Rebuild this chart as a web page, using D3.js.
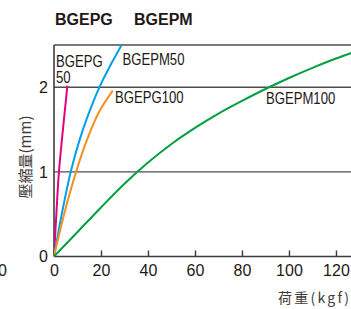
<!DOCTYPE html>
<html>
<head>
<meta charset="utf-8">
<script src="https://cdnjs.cloudflare.com/ajax/libs/d3/7.8.5/d3.min.js"></script>
<style>
  body { margin: 0; background: #fff; }
  svg { display: block; }
</style>
</head>
<body>
<div id="chartContainer"></div>
<script>
// load (kgf) vs compression (mm)
var pg50Load = [0, 1.0, 2.1, 3.8, 5.7];
var pg50Comp = [0, 0.5, 1.0, 1.5, 2.02];

var pm50Load = [0, 3.3, 7.1, 10.8, 14.5, 19.3, 24, 28.8];
var pm50Comp = [0, 0.5, 1.0, 1.37, 1.67, 2.0, 2.26, 2.5];

var pg100Load = [0, 4.3, 9.4, 13.9, 19, 25];
var pg100Comp = [0, 0.5, 1.0, 1.37, 1.7, 1.96];

var pm100Load = [0, 10, 20, 30, 40, 50, 60, 70, 80, 90, 100, 110, 120, 127];
var pm100Comp = [0, 0.29, 0.58, 0.86, 1.11, 1.33, 1.52, 1.69, 1.84, 1.98, 2.11, 2.23, 2.34, 2.41];

var xTicks = [0, 20, 40, 60, 80, 100, 120];
var yTicks = [0, 1, 2];

var sans = "'Liberation Sans', Arial, sans-serif";
var cjk = "'Noto Sans CJK JP', 'Noto Sans CJK SC', sans-serif";

var svg = d3.select("#chartContainer").append("svg")
    .attr("width", 351)
    .attr("height", 309);

var x = d3.scaleLinear().domain([0, 126.4]).range([54, 351]);
var y = d3.scaleLinear().domain([0, 2.5]).range([256.5, 45]);

svg.append("defs").append("clipPath").attr("id", "plot")
    .append("rect")
    .attr("x", 54).attr("y", 45)
    .attr("width", 297).attr("height", 211.5);

// title
svg.selectAll("text.title")
    .data([{t: "BGEPG", x: 55}, {t: "BGEPM", x: 134}])
    .enter()
    .append("text")
    .attr("class", "title")
    .attr("x", function (d) { return d.x; })
    .attr("y", 25)
    .style("font-family", sans)
    .style("font-size", "16px")
    .style("font-weight", "bold")
    .style("fill", "#231815")
    .text(function (d) { return d.t; });

// grid lines and top frame
svg.selectAll("line.grid")
    .data([1, 2, 2.5])
    .enter()
    .append("line")
    .attr("class", "grid")
    .attr("x1", 54).attr("x2", 351)
    .attr("y1", function (d) { return y(d); })
    .attr("y2", function (d) { return y(d); })
    .style("stroke", "#4d4d4d")
    .style("stroke-width", 1.4);

// axes
var yAxis = svg.append("g")
    .attr("transform", "translate(54,0)")
    .call(d3.axisLeft(y).tickValues(yTicks).tickSize(0).tickPadding(6).tickFormat(d3.format("d")));
var xAxis = svg.append("g")
    .attr("transform", "translate(0," + y(0) + ")")
    .call(d3.axisBottom(x).tickValues(xTicks).tickSize(-6).tickPadding(8).tickFormat(d3.format("d")));

[xAxis, yAxis].forEach(function (a) {
  a.select(".domain").style("stroke", "#3e3a39").style("stroke-width", 1.6);
  a.selectAll(".tick line").style("stroke", "#3e3a39").style("stroke-width", 1.4);
  a.selectAll("text")
      .style("font-family", sans)
      .style("font-size", "16px")
      .style("fill", "#231815");
});
yAxis.select(".domain").attr("d", "M0," + y(2.5) + "V" + y(0));
xAxis.select(".domain").attr("d", "M54,0H351");
xAxis.selectAll(".tick").filter(function (d) { return d === 0; }).select("line").remove();

// stray label at far left
svg.append("text")
    .attr("x", -2).attr("y", 276)
    .style("font-family", sans)
    .style("font-size", "16px")
    .style("fill", "#231815")
    .text("0");

// curves
var series = [
  {load: pg50Load, comp: pg50Comp, color: "#e4007f"},
  {load: pm50Load, comp: pm50Comp, color: "#00a0e9"},
  {load: pg100Load, comp: pg100Comp, color: "#f39021"},
  {load: pm100Load, comp: pm100Comp, color: "#00a040"}
];

var line = d3.line()
    .x(function (d) { return x(d[0]); })
    .y(function (d) { return y(d[1]); })
    .curve(d3.curveCatmullRom.alpha(0.5));

svg.append("g").attr("clip-path", "url(#plot)")
    .selectAll("path")
    .data(series)
    .enter()
    .append("path")
    .attr("d", function (s) { return line(d3.zip(s.load, s.comp)); })
    .style("fill", "none")
    .style("stroke", function (s) { return s.color; })
    .style("stroke-width", 2);

// curve labels (condensed face, so squeeze horizontally)
var labels = [
  {t: "BGEPG", x: 56, y: 67},
  {t: "50", x: 56, y: 83},
  {t: "BGEPM50", x: 122.5, y: 65},
  {t: "BGEPG100", x: 115, y: 103},
  {t: "BGEPM100", x: 266, y: 104}
];
svg.selectAll("text.lbl")
    .data(labels)
    .enter()
    .append("text")
    .attr("class", "lbl")
    .attr("transform", function (d) { return "translate(" + d.x + "," + d.y + ") scale(0.82,1)"; })
    .style("font-family", sans)
    .style("font-size", "16px")
    .style("fill", "#231815")
    .text(function (d) { return d.t; });

// axis titles
svg.append("text")
    .attr("x", 278).attr("y", 303)
    .attr("textLength", 71)
    .attr("lengthAdjust", "spacing")
    .style("font-family", cjk)
    .style("font-size", "14px")
    .style("fill", "#3e3a39")
    .text("荷重(kgf)");

svg.append("text")
    .attr("transform", "translate(31,157) rotate(-90)")
    .attr("text-anchor", "middle")
    .style("font-family", cjk)
    .style("font-size", "15px")
    .style("fill", "#3e3a39")
    .text("壓縮量(mm)");
</script>
</body>
</html>
